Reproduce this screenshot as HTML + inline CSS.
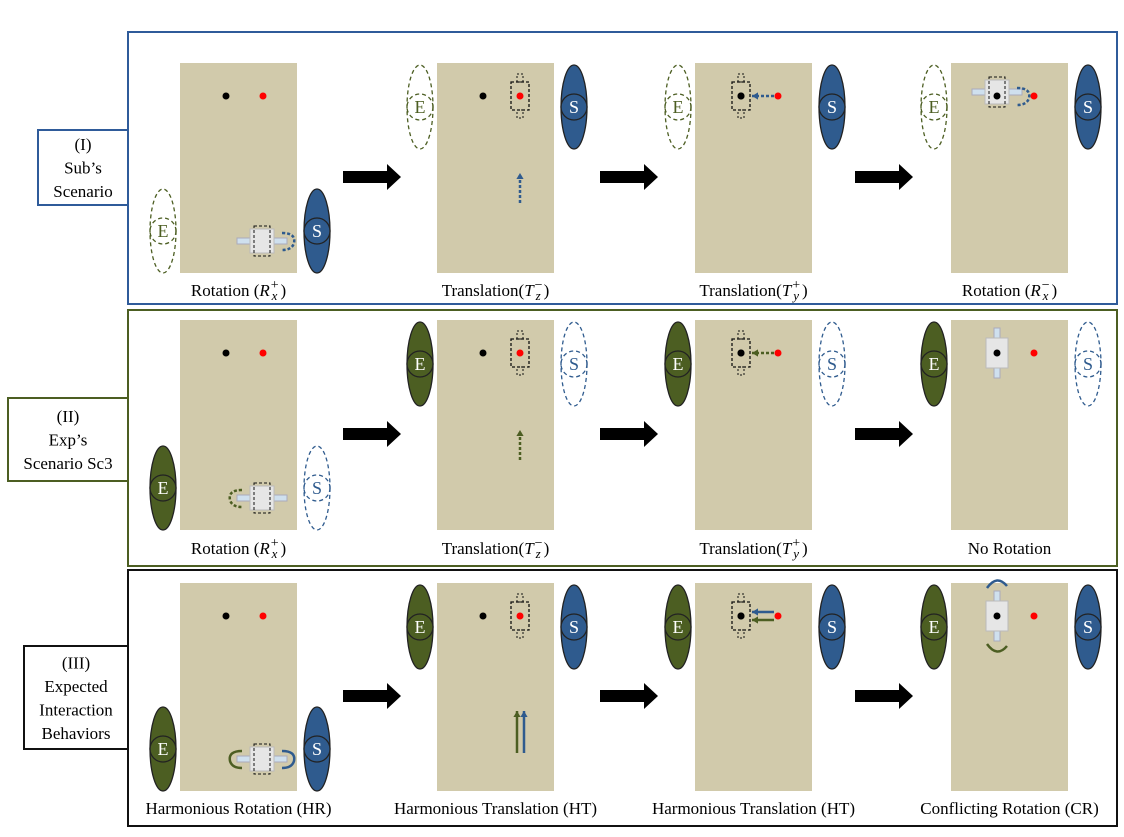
<!DOCTYPE html>
<html><head><meta charset="utf-8"><style>
html,body{margin:0;padding:0;background:#fff;width:1124px;height:837px;overflow:hidden}
svg{display:block;font-family:"Liberation Serif",serif}
</style></head><body>
<svg id="fig" width="1124" height="837" viewBox="0 0 1124 837" xmlns="http://www.w3.org/2000/svg"></svg>
<script>
const NS='http://www.w3.org/2000/svg';
const svg=document.getElementById('fig');
function mk(tag,attrs,parent,name){const e=document.createElementNS(NS,tag);for(const k in attrs)e.setAttribute(k,attrs[k]);


(parent||svg).appendChild(e);return e;}
const BLUE='#2f5b8e',GREEN='#4c5e22',TAN='#d1caab';
const rows=[
 {top:32,bot:304,col:'#2f5b9a',tab:[38,130,128,205],tabText:['(I)','Sub’s','Scenario'],ptop:63,pbot:273,label:296,
  Efill:false,Sfill:true,labels:[['Rotation (','R','+','x',')'],['Translation(','T','−','z',')'],['Translation(','T','+','y',')'],['Rotation (','R','−','x',')']]},
 {top:310,bot:566,col:'#4c5e22',tab:[8,398,128,481],tabText:['(II)','Exp’s','Scenario Sc3'],ptop:320,pbot:530,label:554,
  Efill:true,Sfill:false,labels:[['Rotation (','R','+','x',')'],['Translation(','T','−','z',')'],['Translation(','T','+','y',')'],'No Rotation']},
 {top:570,bot:826,col:'#111',tab:[24,646,128,749],tabText:['(III)','Expected','Interaction','Behaviors'],ptop:583,pbot:791,label:814,
  Efill:true,Sfill:true,labels:['Harmonious Rotation (HR)','Harmonious Translation (HT)','Harmonious Translation (HT)','Conflicting Rotation (CR)']}
];
const panelX=[180,437,695,951];
const PW=117;
function label(x,y,spec,name){
 const t=mk('text',{x,y,'text-anchor':'middle','font-size':17},svg,name);
 if(typeof spec==='string'){t.textContent=spec;return;}
 const [pre,L,sup,sub,suf]=spec;
 const a=mk('tspan',{},t,name+'-prefix');a.textContent=pre;
 const b=mk('tspan',{'font-style':'italic'},t,name+'-symbol');b.textContent=L;
 const c=mk('tspan',{'font-size':14,dx:1,dy:-7},t,name+'-sup');c.textContent=sup;
 const d=mk('tspan',{'font-size':13,'font-style':'italic',dx:-7,dy:11},t,name+'-sub');d.textContent=sub;
 const e=mk('tspan',{dx:3,dy:-4},t,name+'-suffix');e.textContent=suf;
}
function prop(cx,cy,ch,fill,color,name){
 const g=mk('g',{},svg,name);
 mk('ellipse',{cx,cy,rx:13,ry:42,fill:fill?color:'none',stroke:fill?'#222':color,'stroke-width':1.3,'stroke-dasharray':fill?'':'4,3'},g,name+'-blade');
 mk('circle',{cx,cy,r:13,fill:fill?color:'none',stroke:fill?'#222':color,'stroke-width':1.3,'stroke-dasharray':fill?'':'4,3'},g,name+'-hub');
 const t=mk('text',{x:cx,y:cy+6,'text-anchor':'middle','font-size':18,fill:fill?'#fff':color},g,name+'-letter');t.textContent=ch;
}
function robotH(cx,cy,name){
 const g=mk('g',{},svg,name);
 mk('rect',{x:cx-25,y:cy-3,width:50,height:6,fill:'#cfe0ee',stroke:'#aab'},g,name+'-shaft');
 mk('rect',{x:cx-12,y:cy-12,width:24,height:24,fill:'#e6e6e6',stroke:'#bbb'},g,name+'-body');
 mk('rect',{x:cx-8,y:cy-15,width:16,height:30,fill:'none',stroke:'#111','stroke-dasharray':'3,2'},g,name+'-outline');
}
function robotV(cx,cy,name){
 const g=mk('g',{},svg,name);
 mk('rect',{x:cx-3,y:cy-25,width:6,height:50,fill:'#cfe0ee',stroke:'#aab'},g,name+'-shaft');
 mk('rect',{x:cx-11,y:cy-15,width:22,height:30,fill:'#e6e6e6',stroke:'#bbb'},g,name+'-body');
}
function dashBox(cx,cy,name){
 const g=mk('g',{},svg,name);
 mk('rect',{x:cx-9,y:cy-14,width:18,height:28,fill:'none',stroke:'#111','stroke-dasharray':'3,2','stroke-width':1.3},g,name+'-rect');
 mk('rect',{x:cx-3,y:cy-22,width:6,height:8,fill:'none',stroke:'#111','stroke-dasharray':'2,2'},g,name+'-top');
 mk('rect',{x:cx-3,y:cy+14,width:6,height:8,fill:'none',stroke:'#111','stroke-dasharray':'2,2'},g,name+'-bot');
}
function arrowLine(x1,y1,x2,y2,color,dash,name){
 const g=mk('g',{},svg,name);
 mk('line',{x1,y1,x2,y2,stroke:color,'stroke-width':2.5,'stroke-dasharray':dash?'3,2':''},g,name+'-line');
 const a=Math.atan2(y2-y1,x2-x1),s=6;
 mk('polygon',{points:`${x2},${y2} ${x2-s*Math.cos(a)+s*0.6*Math.sin(a)},${y2-s*Math.sin(a)-s*0.6*Math.cos(a)} ${x2-s*Math.cos(a)-s*0.6*Math.sin(a)},${y2-s*Math.sin(a)+s*0.6*Math.cos(a)}`,fill:color},g,name+'-head');
}
function curl(x,y,dir,color,dash,name){
 mk('path',{d:`M${x} ${y-8} Q${x+dir*14} ${y-8} ${x+dir*12} ${y+2} Q${x+dir*10} ${y+9} ${x} ${y+9}`,fill:'none',stroke:color,'stroke-width':2.5,'stroke-dasharray':dash?'3,2':''},svg,name);
}
rows.forEach((r,ri)=>{
 const n='row'+(ri+1);
 mk('rect',{x:128,y:r.top,width:989,height:r.bot-r.top,fill:'none',stroke:r.col,'stroke-width':2},svg,n+'-frame');
 const [tx1,ty1,tx2,ty2]=r.tab;
 mk('rect',{x:tx1,y:ty1,width:tx2-tx1,height:ty2-ty1,fill:'#fff',stroke:r.col,'stroke-width':2},svg,n+'-tab');
 const lh=23.5,start=(ty1+ty2)/2-(r.tabText.length-1)*lh/2+6;
 r.tabText.forEach((t,i)=>{const e=mk('text',{x:(tx1+tx2)/2,y:start+i*lh,'text-anchor':'middle','font-size':17},svg,n+'-tab-line-'+(i+1));e.textContent=t;});
 const mid=(r.ptop+r.pbot)/2+9;
 panelX.forEach((px,pi)=>{
  const pn=n+'-panel-'+(pi+1);
  mk('rect',{x:px,y:r.ptop,width:PW,height:r.pbot-r.ptop,fill:TAN},svg,pn);
  label(px+PW/2,r.label,r.labels[pi],pn+'-label');
  const dy=r.ptop+33;
  if(pi<3){mk('circle',{cx:px+46,cy:dy,r:3.5,fill:'#000'},svg,pn+'-target-dot');}
  mk('circle',{cx:px+83,cy:dy,r:3.5,fill:'#f00'},svg,pn+'-goal-dot');
  const ey=pi==0?r.pbot-42:r.ptop+44;
  prop(px-17,ey,'E',r.Efill,GREEN,pn+'-E-prop');
  prop(px+PW+20,ey,'S',r.Sfill,BLUE,pn+'-S-prop');
  if(pi<3){
   const ax=[343,600,855][pi];
   mk('rect',{x:ax,y:mid-6,width:46,height:12,fill:'#000'},svg,n+'-step-arrow-'+(pi+1)+'-shaft');
   mk('polygon',{points:`${ax+44},${mid-13} ${ax+58},${mid} ${ax+44},${mid+13}`,fill:'#000'},svg,n+'-step-arrow-'+(pi+1)+'-head');
  }
  const by=r.pbot-32;
  if(pi==0){
   robotH(px+82,by,pn+'-robot');
   if(ri==0) curl(px+102,by,1,BLUE,true,pn+'-rotate-arrow');
   if(ri==1) curl(px+62,by,-1,GREEN,true,pn+'-rotate-arrow');
   if(ri==2){curl(px+102,by,1,BLUE,false,pn+'-rotate-arrow-s');curl(px+62,by,-1,GREEN,false,pn+'-rotate-arrow-e');}
  } else if(pi==1){
   dashBox(px+83,dy,pn+'-robot');
   if(ri==2){arrowLine(px+80,r.ptop+170,px+80,r.ptop+128,GREEN,false,pn+'-move-e');arrowLine(px+87,r.ptop+170,px+87,r.ptop+128,BLUE,false,pn+'-move-s');}
   else arrowLine(px+83,r.ptop+140,px+83,r.ptop+110,ri==0?BLUE:GREEN,true,pn+'-move-arrow');
  } else if(pi==2){
   dashBox(px+46,dy,pn+'-robot');
   mk('circle',{cx:px+46,cy:dy,r:3.5,fill:'#000'},svg,pn+'-target-dot2');
   if(ri==2){arrowLine(px+79,dy-4,px+57,dy-4,BLUE,false,pn+'-move-s');arrowLine(px+79,dy+4,px+57,dy+4,GREEN,false,pn+'-move-e');}
   else arrowLine(px+79,dy,px+57,dy,ri==0?BLUE:GREEN,true,pn+'-move-arrow');
  } else {
   if(ri==0){robotH(px+46,dy-4,pn+'-robot');curl(px+66,dy,1,BLUE,true,pn+'-rotate-arrow');}
   else robotV(px+46,dy,pn+'-robot');
   mk('circle',{cx:px+46,cy:dy,r:3.5,fill:'#000'},svg,pn+'-center-dot');
   if(ri==2){
    mk('path',{d:`M${px+36} ${dy-28} Q${px+46} ${dy-42} ${px+56} ${dy-30}`,fill:'none',stroke:BLUE,'stroke-width':2.5},svg,pn+'-rotate-s');
    mk('path',{d:`M${px+36} ${dy+28} Q${px+46} ${dy+42} ${px+56} ${dy+30}`,fill:'none',stroke:GREEN,'stroke-width':2.5},svg,pn+'-rotate-e');
   }
  }
 });
});
</script>
</body></html>
